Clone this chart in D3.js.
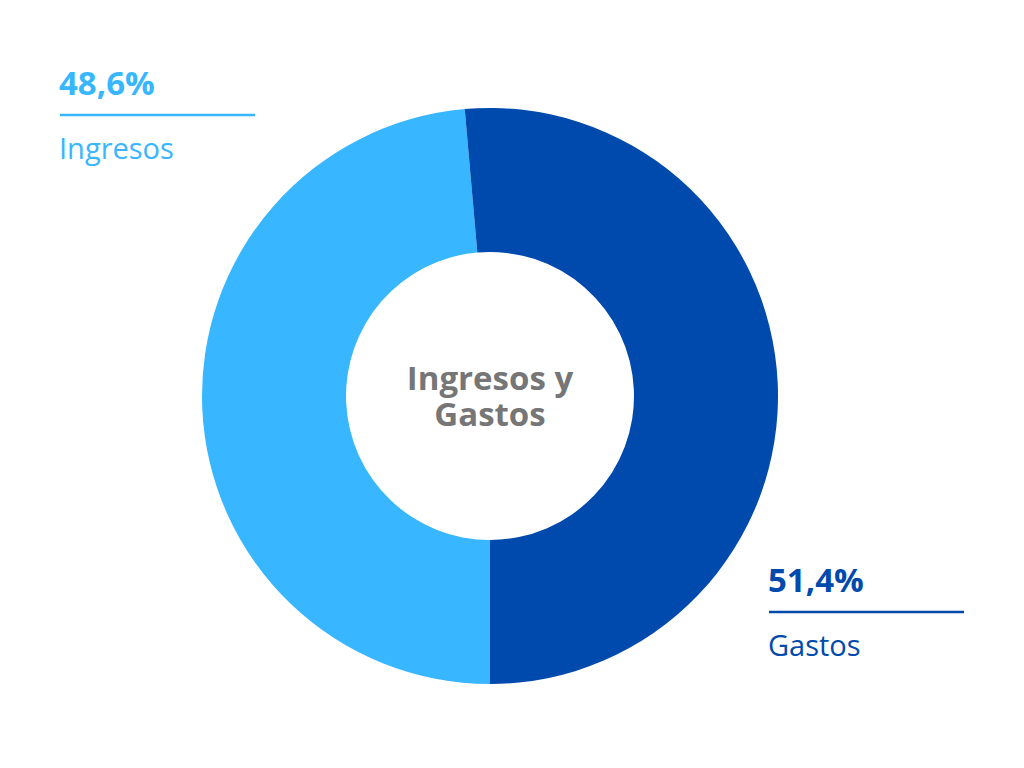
<!DOCTYPE html>
<html><head><meta charset="utf-8">
<script src="https://cdn.jsdelivr.net/npm/d3@7"></script>
<style>body{margin:0;background:#fff}svg{display:block}text{font-family:"Open Sans",sans-serif}</style>
</head><body>
<svg id="c" width="1024" height="768"></svg>
<script>
const categories = ["Ingresos", "Gastos"];
const values = [48.6, 51.4];
const valueLabels = ["48,6%", "51,4%"];
const colors = ["#38b6ff", "#004aad"];
const centerLines = ["Ingresos y", "Gastos"];

const svg = d3.select("#c");
const cx = 490, cy = 396, rOuter = 288, rInner = 144;
const data = categories.map((c, i) => ({cat: c, value: values[i], label: valueLabels[i], color: colors[i]}));
const pie = d3.pie().value(d => d.value).sort(null).startAngle(Math.PI).endAngle(3 * Math.PI);
const arc = d3.arc().innerRadius(rInner).outerRadius(rOuter);
const g = svg.append("g").attr("transform", `translate(${cx},${cy})`);
g.selectAll("path").data(pie(data)).join("path").attr("d", arc).attr("fill", d => d.data.color);

const ct = g.append("text").attr("text-anchor", "middle")
  .attr("font-size", 33).attr("font-weight", 700).attr("fill", "#767676");
ct.selectAll("tspan").data(centerLines).join("tspan")
  .attr("x", 0).attr("y", (d, i) => -6 + i * 36).text(d => d);

const labelPos = [{x: 60, y: 95}, {x: 769, y: 592}];
data.forEach((d, i) => {
  const p = labelPos[i];
  const lg = svg.append("g").attr("transform", `translate(${p.x},${p.y})`);
  lg.append("text").attr("x", -1).attr("y", 0).attr("font-size", 33).attr("font-weight", 700).attr("fill", d.color).text(d.label);
  lg.append("line").attr("x1", 0).attr("x2", 195).attr("y1", 20).attr("y2", 20).attr("stroke", d.color).attr("stroke-width", 2.5);
  lg.append("text").attr("x", -1).attr("y", 64).attr("font-size", 29).attr("fill", d.color).text(d.cat);
});
</script>
</body></html>
